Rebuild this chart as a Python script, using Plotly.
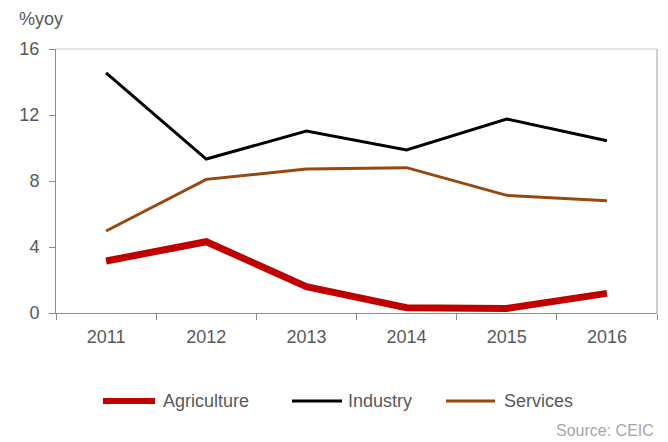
import plotly.graph_objects as go

years = ["2011", "2012", "2013", "2014", "2015", "2016"]
agriculture = [3.15, 4.32, 1.60, 0.32, 0.28, 1.19]
industry = [14.55, 9.33, 11.03, 9.88, 11.76, 10.44]
services = [4.97, 8.10, 8.73, 8.81, 7.13, 6.81]
y_ticks = [0, 4, 8, 12, 16]

series = [
    ("Agriculture", agriculture, "#c00000", 7),
    ("Industry", industry, "#000000", 3),
    ("Services", services, "#97480f", 3),
]

FONT = "Liberation Sans, Arial, sans-serif"
W, H = 668, 442
L, R, T, B = 56, 11, 49, 129
pw, ph = W - L - R, H - T - B

fig = go.Figure()
for name, vals, color, width in series:
    fig.add_trace(go.Scatter(x=years, y=vals, mode="lines", name=name,
                             line=dict(color=color, width=width),
                             showlegend=False))

def px_x(px):
    return (px - L) / pw

def px_y(py):
    return (H - B - py) / ph

# manual legend
leg = [(103, 155, 161), (292, 342, 346), (446, 495, 502)]
for (name, vals, color, width), (x0, x1, tx) in zip(series, leg):
    fig.add_shape(type="line", xref="paper", yref="paper",
                  x0=px_x(x0), x1=px_x(x1), y0=px_y(401), y1=px_y(401),
                  line=dict(color=color, width=6 if width > 5 else 3))
    fig.add_annotation(text=name, xref="paper", yref="paper",
                       x=px_x(tx), y=px_y(401), xanchor="left", yanchor="middle",
                       showarrow=False, font=dict(family=FONT, size=18, color="#595959"))

# top and right frame
fig.add_shape(type="line", xref="paper", yref="paper", x0=0, x1=1, y0=1, y1=1,
              line=dict(color="#c8c8c8", width=1))
fig.add_shape(type="line", xref="paper", yref="paper", x0=1, x1=1, y0=0, y1=1,
              line=dict(color="#a0a0a0", width=1))

fig.add_annotation(text="%yoy", xref="paper", yref="paper", x=px_x(17), y=px_y(19),
                   xanchor="left", yanchor="middle", showarrow=False,
                   font=dict(family=FONT, size=18, color="#595959"))
fig.add_annotation(text="Source: CEIC", xref="paper", yref="paper", x=px_x(656), y=px_y(430),
                   xanchor="right", yanchor="middle", showarrow=False,
                   font=dict(family=FONT, size=16, color="#a6a6a6"))

fig.update_layout(
    width=W, height=H,
    margin=dict(l=L, r=R, t=T, b=B),
    paper_bgcolor="white", plot_bgcolor="white",
    font=dict(family=FONT, size=18, color="#595959"),
    showlegend=False,
)
fig.update_xaxes(type="category", showgrid=False, showline=True, linecolor="#8c8c8c",
                 linewidth=1, ticks="outside", ticklen=6, tickcolor="#8c8c8c",
                 tickson="boundaries", zeroline=False, range=[-0.5, 5.5],
                 ticklabelstandoff=7,
                 tickfont=dict(family=FONT, size=18, color="#595959"))
fig.update_yaxes(range=[0, 16], tickvals=y_ticks, showgrid=False, showline=True,
                 linecolor="#8c8c8c", linewidth=1, ticks="outside", ticklen=6,
                 tickcolor="#8c8c8c", zeroline=False, ticklabelstandoff=6,
                 tickfont=dict(family=FONT, size=18, color="#595959"))

fig.write_html("out.html")
